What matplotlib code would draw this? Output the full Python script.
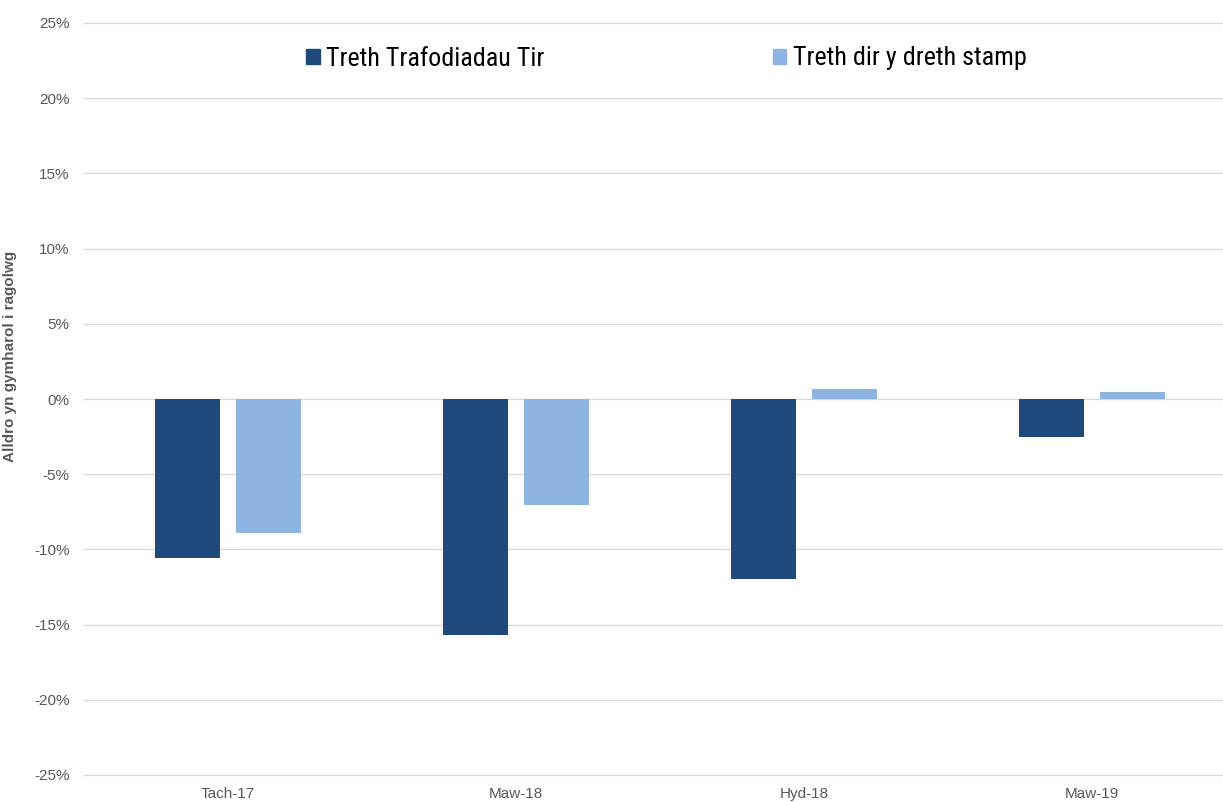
import matplotlib
matplotlib.use("Agg")
import matplotlib.pyplot as plt
from matplotlib.patches import Patch
from matplotlib import font_manager
import numpy as np

categories = ["Tach-17", "Maw-18", "Hyd-18", "Maw-19"]
ltt = [-10.6, -15.7, -12.0, -2.5]
sdlt = [-8.9, -7.05, 0.66, 0.47]
series_names = ["Treth Trafodiadau Tir", "Treth dir y dreth stamp"]
yticks = [-25, -20, -15, -10, -5, 0, 5, 10, 15, 20, 25]

dark = "#1F497D"
light = "#8EB4E3"

available = {f.name for f in font_manager.fontManager.ttflist}
narrow = None
for cand in ["Liberation Sans Narrow", "Arial Narrow", "Roboto Condensed", "Open Sans Condensed"]:
    if cand in available:
        narrow = cand
        break

fig = plt.figure(figsize=(12.23, 8.02), dpi=100)
ax = fig.add_axes([84/1223, 1-775/802, (1222-84)/1223, (775-23)/802])

x = np.arange(len(categories))
w = 0.226
off = 0.141
ax.bar(x - off, ltt, width=w, color=dark, zorder=3)
ax.bar(x + off, sdlt, width=w, color=light, zorder=3)

ax.set_xlim(-0.5, 3.451)
ax.set_ylim(-25, 25)
ax.set_yticks(yticks)
ax.set_yticklabels([f"{v}%" for v in yticks], color="#595959", fontsize=11, family="Liberation Sans")
ax.set_xticks(x)
ax.set_xticklabels(categories, color="#595959", fontsize=11, family="Liberation Sans")
ax.tick_params(length=0)
ax.tick_params(axis="y", pad=10.5)
ax.tick_params(axis="x", pad=8.5)
ax.grid(axis="y", color="#D9D9D9", linewidth=1, zorder=0)
for gl in ax.get_ygridlines():
    gl.set_clip_on(False)
for s in ax.spines.values():
    s.set_visible(False)

ax.set_ylabel("Alldro yn gymharol i ragolwg", fontsize=11, fontweight="bold", color="#595959",
              family="Liberation Sans")
ax.yaxis.set_label_coords((17-84)/1138, (775-356)/752)

if narrow:
    fs = 18.8
    lprop = {"family": narrow, "size": fs}
    colsp = 164 / fs
else:
    fs = 15
    lprop = {"family": "Liberation Sans", "size": fs}
    colsp = 120 / fs
handles = [Patch(color=dark), Patch(color=light)]
leg = fig.legend(handles, series_names, loc="center", bbox_to_anchor=(666.5/1223, 1-58.5/802),
                 ncol=2, frameon=False, columnspacing=colsp, handlelength=9.4/fs, handleheight=9.4/fs,
                 handletextpad=5.0/fs, borderpad=0, prop=lprop)

fig.savefig("out.png", dpi=100)
